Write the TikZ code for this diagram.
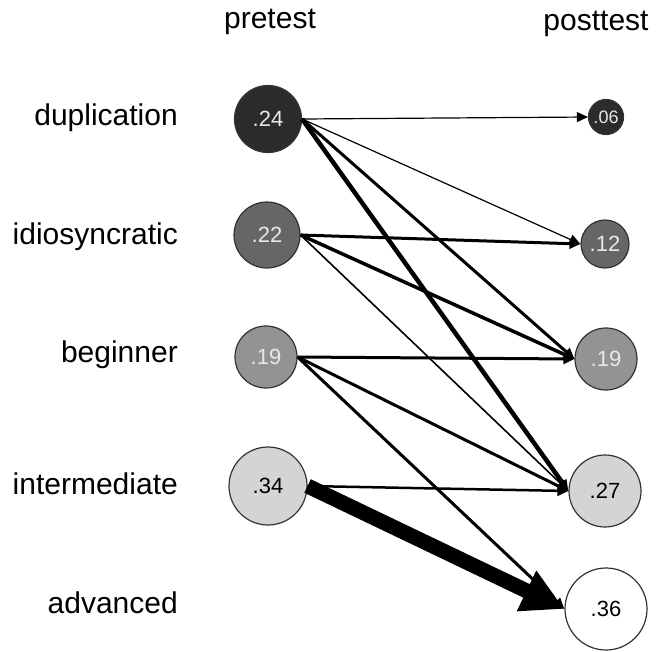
\documentclass[tikz,border=0pt]{standalone}
\usepackage{fontspec}
\setmainfont{Liberation Sans}
\usetikzlibrary{arrows.meta}
\definecolor{cdark}{HTML}{2B2B2B}
\definecolor{cmid}{HTML}{666666}
\definecolor{clmid}{HTML}{939393}
\definecolor{clight}{HTML}{D4D4D4}
\definecolor{ctxt}{HTML}{E8E8E8}
\begin{document}
\begin{tikzpicture}[x=1pt,y=-1pt,
  state/.style={circle,draw=black!80,line width=1.2pt,inner sep=0pt,minimum size=#1,font=\fontsize{22}{22}\selectfont},
  lbl/.style={anchor=east,inner sep=0pt,font=\fontsize{30}{30}\selectfont},
  hdr/.style={inner sep=0pt,font=\fontsize{30}{30}\selectfont},
  flow/.style={line width=#1,-{Triangle[length=11pt,width=10pt]}},
  bigflow/.style={line width=15pt,-{Triangle[length=42pt,width=42pt]}},
]
\useasboundingbox (0,0) rectangle (658,651);
% headers
\node[hdr] (hpre) at (270,22) {pretest};
\node[hdr] (hpost) at (596,24) {posttest};
% row labels
\node[lbl] (ldup) at (178,118) {duplication};
\node[lbl] (lidi) at (178,237) {idiosyncratic};
\node[lbl] (lbeg) at (178,355) {beginner};
\node[lbl] (lint) at (178,484) {intermediate};
\node[lbl] (ladv) at (178,603) {advanced};
% pretest circles
\node[state=67pt,fill=cdark,text=ctxt] (a24) at (268,119) {.24};
\node[state=66pt,fill=cmid,text=ctxt] (a22) at (267,235) {.22};
\node[state=62pt,fill=clmid,text=ctxt] (a19) at (266,357) {.19};
\node[state=78pt,fill=clight,text=black] (a34) at (268,486) {.34};
% posttest circles
\node[state=35pt,fill=cdark,text=ctxt,font=\fontsize{18}{18}\selectfont] (b06) at (606,117) {.06};
\node[state=48pt,fill=cmid,text=ctxt] (b12) at (605,244) {.12};
\node[state=62pt,fill=clmid,text=ctxt] (b19) at (606,359) {.19};
\node[state=72pt,fill=clight,text=black] (b27) at (605,491) {.27};
\node[state=82pt,fill=white,text=black] (b36) at (606,609) {.36};
% flows
\draw[flow=1.2pt] (a24.east) -- (b06.west);
\draw[flow=1.2pt] (a24.east) -- (b12.west);
\draw[flow=3pt] (a24.east) -- (b19.west);
\draw[flow=4.5pt] (a24.east) -- (b27.west);
\draw[flow=3pt] (a22.east) -- (b12.west);
\draw[flow=3.5pt] (a22.east) -- (b19.west);
\draw[flow=1.6pt] (a22.east) -- (b27.west);
\draw[flow=3pt] (a19.east) -- (b19.west);
\draw[flow=3pt] (a19.east) -- (b27.west);
\draw[flow=3pt] (a19.east) -- (b36.west);
\draw[flow=2.5pt] (a34.east) -- (b27.west);
\draw[bigflow] (a34.east) -- (b36.west);
\end{tikzpicture}
\end{document}
